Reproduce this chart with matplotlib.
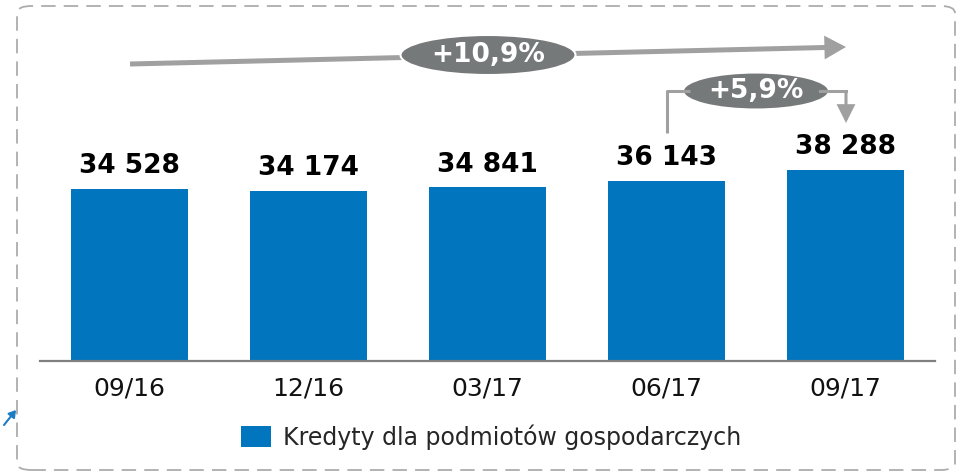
import matplotlib
matplotlib.use("Agg")
import matplotlib.pyplot as plt
from matplotlib.patches import Ellipse, FancyArrowPatch, FancyBboxPatch
from matplotlib.lines import Line2D

# data
periods = ["09/16", "12/16", "03/17", "06/17", "09/17"]
values = [34528, 34174, 34841, 36143, 38288]
series_name = "Kredyty dla podmiotów gospodarczych"
growth_total = "+10,9%"
growth_q = "+5,9%"

W, H = 959, 474
BLUE = "#0175BD"
OVAL = "#76797A"
ARROW = "#A0A0A0"

fig = plt.figure(figsize=(W / 100, H / 100), dpi=100)


# pixel (from top-left) -> figure fraction
def fx(px):
    return px / W


def fy(py):
    return 1 - py / H


# axes: baseline at y=361, bars centred at 131..847
ax = fig.add_axes([fx(40), fy(361), fx(935) - fx(40), fy(102) - fy(361)])
x = range(len(values))
bars = ax.bar(x, values, width=0.655, color=BLUE, label=series_name, zorder=2)
ax.set_xlim(-0.5, 4.5)
ax.set_ylim(0, 52000)

for xi, v in zip(x, values):
    lbl = f"{v:,}".replace(",", " ")
    ax.annotate(lbl, (xi, v), xytext=(0, 16.5), textcoords="offset points",
                ha="center", va="center", fontsize=19, fontweight="bold", color="black")

for s in ["top", "right", "left"]:
    ax.spines[s].set_visible(False)
ax.spines["bottom"].set_color("#808080")
ax.spines["bottom"].set_linewidth(1.6)
ax.set_yticks([])
ax.set_xticks(list(x))
ax.set_xticklabels(periods, fontsize=18, color="#111111")
ax.tick_params(axis="x", length=0, pad=11)

fig.legend(handles=[bars], labels=[series_name], loc="center",
           bbox_to_anchor=(fx(491), fy(437)), frameon=False, fontsize=17,
           handlelength=1.3, handleheight=1.0, handletextpad=0.5,
           labelcolor="#262626")

# dashed rounded frame
frame = FancyBboxPatch((fx(17), fy(470)), fx(955) - fx(17), fy(6) - fy(470),
                       boxstyle="round,pad=0,rounding_size=0.015",
                       transform=fig.transFigure, fill=False,
                       edgecolor="#ADADAD", linewidth=1.3, linestyle=(0, (8, 4.5)))
fig.add_artist(frame)

# long growth arrow
fig.add_artist(FancyArrowPatch((fx(130), fy(64)), (fx(846), fy(47)),
                               transform=fig.transFigure,
                               arrowstyle="-|>,head_length=10,head_width=5.5",
                               mutation_scale=1, color=ARROW, linewidth=3.6,
                               capstyle="butt", joinstyle="miter",
                               shrinkA=0, shrinkB=0))
fig.add_artist(Ellipse((fx(488), fy(55)), 175 / W, 40 / H, transform=fig.transFigure,
                       facecolor=OVAL, edgecolor="white", linewidth=1.5))
fig.text(fx(488), fy(55), growth_total, ha="center", va="center",
         fontsize=19, fontweight="bold", color="white")

# quarterly elbow arrow
fig.add_artist(Line2D([fx(667), fx(667), fx(690)], [fy(133), fy(91), fy(91)],
                      transform=fig.transFigure, color=ARROW, linewidth=2.2,
                      solid_capstyle="butt"))
fig.add_artist(Line2D([fx(820), fx(846)], [fy(91), fy(91)],
                      transform=fig.transFigure, color=ARROW, linewidth=2.2))
fig.add_artist(FancyArrowPatch((fx(846), fy(90)), (fx(846), fy(123)),
                               transform=fig.transFigure,
                               arrowstyle="-|>,head_length=10,head_width=5",
                               mutation_scale=1, color=ARROW, linewidth=2.2,
                               capstyle="butt", joinstyle="miter",
                               shrinkA=0, shrinkB=0))
fig.add_artist(Ellipse((fx(756), fy(91)), 146 / W, 37 / H, transform=fig.transFigure,
                       facecolor=OVAL, edgecolor="white", linewidth=1.5))
fig.text(fx(756), fy(91), growth_q, ha="center", va="center",
         fontsize=19, fontweight="bold", color="white")

# small blue arrow fragment at left edge
fig.add_artist(FancyArrowPatch((fx(4), fy(425)), (fx(16), fy(410)),
                               transform=fig.transFigure,
                               arrowstyle="-|>,head_length=4,head_width=2.5",
                               mutation_scale=1, color="#1C7CC4", linewidth=1.5,
                               shrinkA=0, shrinkB=0))

fig.savefig("out.png", dpi=100)
